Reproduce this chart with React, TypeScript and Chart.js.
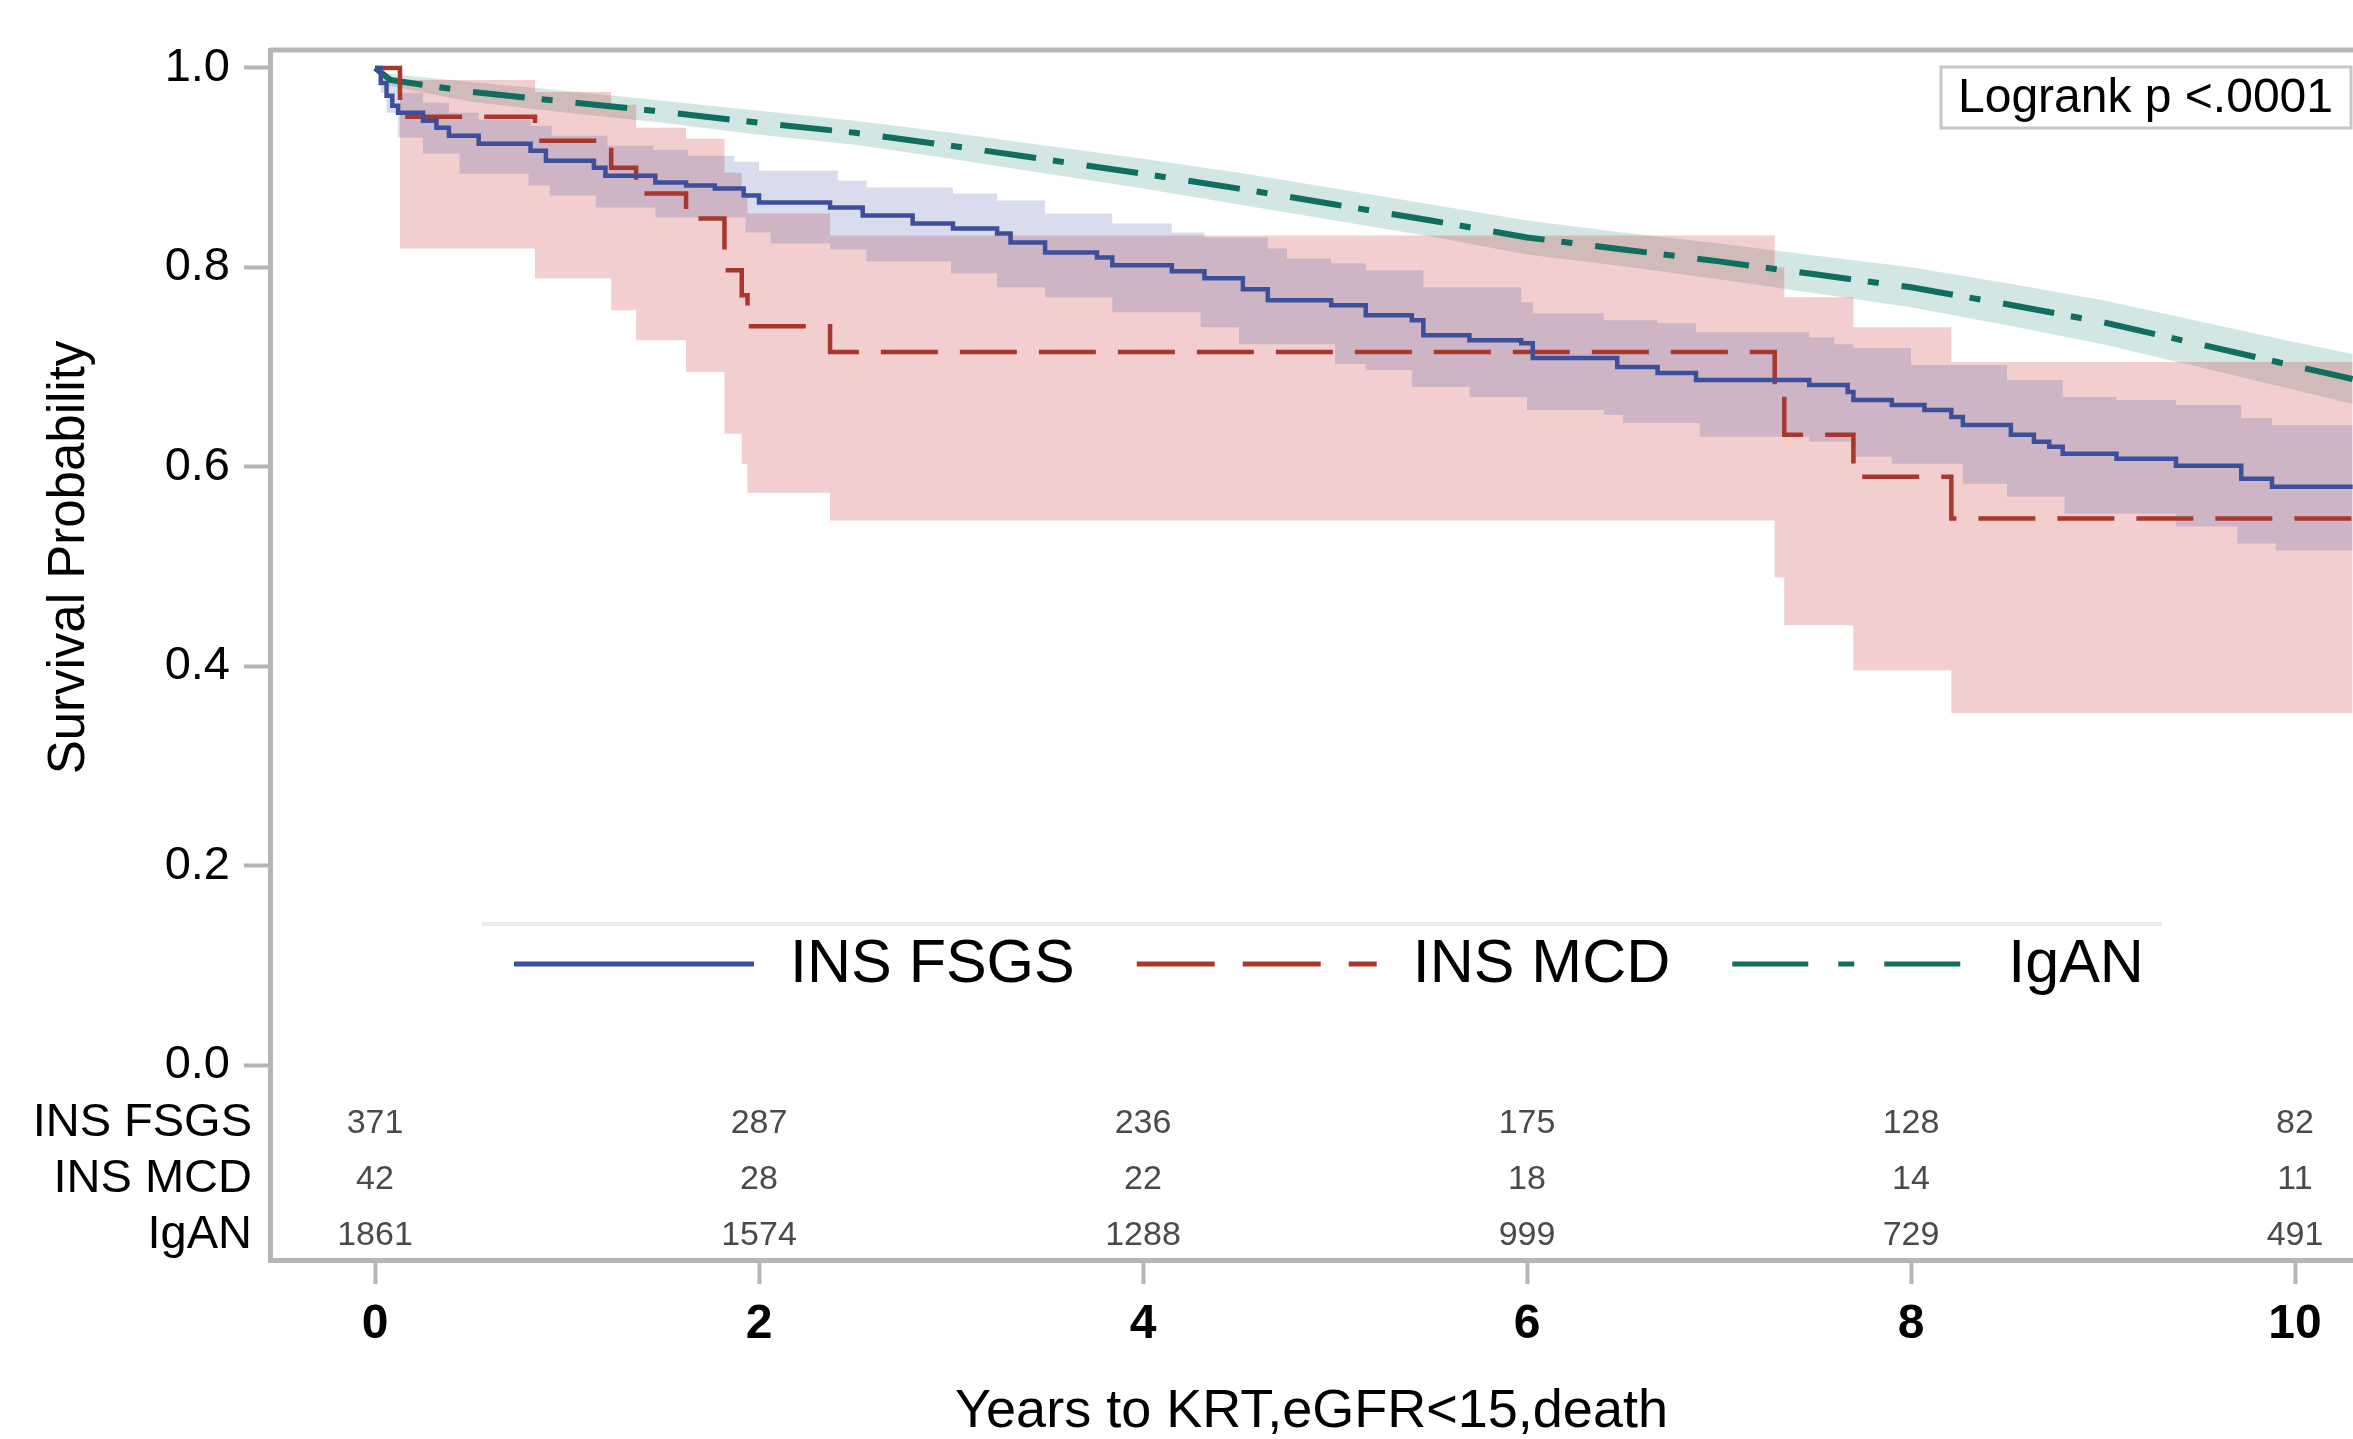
import React, { useEffect, useRef } from 'react';
import { Chart, registerables } from 'chart.js';

Chart.register(...registerables);

const W = 2353;
const H = 1439;
const FONT = '"Liberation Sans", Arial, Helvetica, sans-serif';

// ---- Survival data (Kaplan-Meier) ----
const groups = ['INS FSGS', 'INS MCD', 'IgAN'];

const fsgsT = [0, 0.03, 0.06, 0.09, 0.12, 0.25, 0.32, 0.385, 0.54, 0.81, 0.89, 1.14, 1.2, 1.46, 1.62, 1.77, 1.92, 2.0, 2.37, 2.54, 2.8, 3.01, 3.24, 3.31, 3.49, 3.76, 3.84, 4.15, 4.32, 4.52, 4.65, 4.98, 5.16, 5.4, 5.46, 5.7, 5.97, 6.03, 6.47, 6.68, 6.88, 7.47, 7.67, 7.7, 7.9, 8.07, 8.21, 8.27, 8.52, 8.64, 8.72, 8.79, 9.07, 9.38, 9.72, 9.88, 10.3];
const fsgsS = [1.0, 0.985, 0.972, 0.962, 0.955, 0.947, 0.94, 0.932, 0.924, 0.917, 0.907, 0.9, 0.892, 0.885, 0.882, 0.879, 0.872, 0.865, 0.86, 0.852, 0.844, 0.839, 0.834, 0.825, 0.815, 0.81, 0.802, 0.796, 0.789, 0.778, 0.767, 0.762, 0.752, 0.747, 0.732, 0.727, 0.724, 0.709, 0.7, 0.694, 0.687, 0.682, 0.675, 0.667, 0.662, 0.657, 0.65, 0.642, 0.632, 0.625, 0.62, 0.613, 0.608, 0.601, 0.588, 0.58, 0.58];

const fsgsUpperT = [0, 0.03, 0.06, 0.12, 0.25, 0.385, 0.54, 0.81, 0.92, 1.21, 1.45, 1.63, 1.87, 2.0, 2.41, 2.56, 3.01, 3.24, 3.49, 3.84, 4.15, 4.32, 4.65, 4.75, 4.98, 5.16, 5.46, 5.97, 6.03, 6.4, 6.68, 6.88, 7.47, 7.6, 7.7, 8.0, 8.5, 8.79, 9.07, 9.38, 9.72, 9.88, 10.3];
const fsgsUpper = [1.0, 0.995, 0.988, 0.975, 0.965, 0.955, 0.948, 0.942, 0.932, 0.922, 0.918, 0.912, 0.906, 0.897, 0.887, 0.88, 0.874, 0.867, 0.854, 0.844, 0.835, 0.83, 0.819, 0.809, 0.804, 0.797, 0.78, 0.765, 0.754, 0.747, 0.744, 0.735, 0.73, 0.723, 0.719, 0.702, 0.687, 0.67, 0.667, 0.662, 0.649, 0.642, 0.637];

const fsgsLowerT = [0, 0.03, 0.06, 0.12, 0.25, 0.44, 0.8, 0.91, 1.15, 1.46, 1.93, 2.06, 2.37, 2.56, 3.0, 3.24, 3.49, 3.84, 4.3, 4.5, 5.0, 5.16, 5.4, 5.7, 6.0, 6.4, 6.5, 6.9, 7.47, 7.7, 7.9, 8.27, 8.5, 8.8, 9.38, 9.7, 9.9, 10.3];
const fsgsLower = [1.0, 0.975, 0.955, 0.93, 0.914, 0.894, 0.882, 0.872, 0.86, 0.85, 0.835, 0.824, 0.818, 0.806, 0.794, 0.78, 0.77, 0.755, 0.74, 0.723, 0.703, 0.697, 0.68, 0.67, 0.657, 0.652, 0.644, 0.63, 0.625, 0.61, 0.603, 0.583, 0.57, 0.553, 0.54, 0.523, 0.516, 0.513];

const mcdT = [0, 0.13, 0.833, 1.23, 1.36, 1.62, 1.82, 1.91, 1.94, 2.37, 7.29, 7.34, 7.7, 8.21, 10.3];
const mcdS = [1.0, 0.951, 0.927, 0.9, 0.874, 0.849, 0.797, 0.772, 0.741, 0.715, 0.677, 0.632, 0.59, 0.548, 0.548];
const mcdUpper = [1.0, 0.988, 0.976, 0.963, 0.94, 0.929, 0.895, 0.87, 0.854, 0.832, 0.8, 0.77, 0.74, 0.705, 0.705];
const mcdLower = [1.0, 0.819, 0.789, 0.757, 0.727, 0.695, 0.633, 0.603, 0.574, 0.546, 0.489, 0.441, 0.396, 0.353, 0.353];

const igaT = [0, 0.08, 0.5, 1, 1.5, 2, 2.5, 3, 3.5, 4, 4.5, 5, 5.5, 6, 6.5, 7, 7.5, 8, 8.5, 9, 9.5, 10, 10.3];
const igaS = [1.0, 0.988, 0.976, 0.966, 0.956, 0.945, 0.935, 0.922, 0.908, 0.894, 0.879, 0.863, 0.847, 0.83, 0.818, 0.806, 0.793, 0.78, 0.763, 0.745, 0.723, 0.701, 0.688];
const igaUpper = [1.0, 0.994, 0.986, 0.977, 0.967, 0.957, 0.947, 0.935, 0.922, 0.909, 0.895, 0.879, 0.863, 0.847, 0.835, 0.824, 0.812, 0.8, 0.784, 0.767, 0.746, 0.725, 0.713];
const igaLower = [1.0, 0.982, 0.966, 0.955, 0.945, 0.933, 0.923, 0.909, 0.894, 0.879, 0.863, 0.847, 0.831, 0.813, 0.801, 0.788, 0.774, 0.76, 0.742, 0.723, 0.7, 0.677, 0.663];

// ---- Number at risk ----
const riskTimes = [0, 2, 4, 6, 8, 10];
const riskFSGS = [371, 287, 236, 175, 128, 82];
const riskMCD = [42, 28, 22, 18, 14, 11];
const riskIgAN = [1861, 1574, 1288, 999, 729, 491];

// ---- Ticks & texts ----
const xTicks = [0, 2, 4, 6, 8, 10];
const yTicks = [0, 0.2, 0.4, 0.6, 0.8, 1.0];
const xTitle = 'Years to KRT,eGFR<15,death';
const yTitle = 'Survival Probability';
const pValueText = 'Logrank p <.0001';

const BLUE = '#3d4f9b';
const RED = '#a8382e';
const TEAL = '#0f6e60';
const AXIS = '#b5b5b5';

const pts = (t: number[], v: number[]) => t.map((x, i) => ({ x, y: v[i] }));

const bandStyle = (color: string, fill: any, stepped: boolean) => ({
  borderColor: 'transparent',
  borderWidth: 0,
  backgroundColor: color,
  pointRadius: 0,
  fill,
  stepped: stepped ? 'before' : false,
  tension: 0,
});

const legendDash: Record<number, number[]> = { 0: [], 1: [78, 28], 2: [76, 30, 16, 30] };

const decorPlugin = {
  id: 'kmDecor',
  afterDraw(chart: any) {
    const { ctx, chartArea: a, scales } = chart;
    const xs = scales.x;
    const ys = scales.y;
    const yr = scales.yRisk;
    ctx.save();

    // top frame line
    ctx.strokeStyle = AXIS;
    ctx.lineWidth = 5;
    ctx.beginPath();
    ctx.moveTo(a.left, a.top);
    ctx.lineTo(a.right + 10, a.top);
    ctx.stroke();

    // number at risk
    ctx.font = `34px ${FONT}`;
    ctx.fillStyle = '#4a4a4a';
    ctx.textAlign = 'center';
    ctx.textBaseline = 'middle';
    [riskFSGS, riskMCD, riskIgAN].forEach((row, r) => {
      row.forEach((n, i) => {
        ctx.fillText(String(n), xs.getPixelForValue(riskTimes[i]), yr.getPixelForValue(r + 1));
      });
    });

    // Logrank box
    const bx = 1941, by = 67, bw = 410, bh = 61;
    ctx.fillStyle = '#ffffff';
    ctx.fillRect(bx, by, bw, bh);
    ctx.strokeStyle = '#c6c6c6';
    ctx.lineWidth = 3;
    ctx.strokeRect(bx, by, bw, bh);
    ctx.fillStyle = '#000';
    ctx.font = `48px ${FONT}`;
    ctx.textAlign = 'left';
    ctx.textBaseline = 'middle';
    ctx.fillText(pValueText, bx + 17, by + bh / 2 + 1);

    // legend
    const ly = ys.getPixelForValue(0.1013);
    ctx.strokeStyle = '#ececec';
    ctx.lineWidth = 4;
    ctx.setLineDash([]);
    ctx.beginPath();
    ctx.moveTo(482, ly - 40);
    ctx.lineTo(2162, ly - 40);
    ctx.stroke();

    ctx.font = `61px ${FONT}`;
    let lx = 514;
    chart.data.datasets.slice(0, 3).forEach((ds: any, i: number) => {
      ctx.strokeStyle = ds.borderColor;
      ctx.lineWidth = 5;
      ctx.lineCap = 'butt';
      ctx.setLineDash(legendDash[i]);
      ctx.beginPath();
      ctx.moveTo(lx, ly);
      ctx.lineTo(lx + 240, ly);
      ctx.stroke();
      ctx.setLineDash([]);
      ctx.fillStyle = '#000';
      ctx.textAlign = 'left';
      ctx.textBaseline = 'middle';
      const tx = lx + 240 + 36;
      ctx.fillText(ds.label, tx, ly + 1);
      lx = tx + ctx.measureText(ds.label).width + 62;
    });

    ctx.restore();
  },
};

export default function App() {
  const canvasRef = useRef<HTMLCanvasElement | null>(null);

  useEffect(() => {
    document.body.style.margin = '0';
    document.body.style.overflow = 'hidden';
    const canvas = canvasRef.current;
    if (!canvas) return;

    const chart = new Chart(canvas, {
      type: 'line',
      data: {
        datasets: [
          {
            label: groups[0],
            data: pts(fsgsT, fsgsS),
            borderColor: BLUE,
            borderWidth: 4.5,
            stepped: 'before',
            pointRadius: 0,
            fill: false,
          },
          {
            label: groups[1],
            data: pts(mcdT, mcdS),
            borderColor: RED,
            borderWidth: 4.5,
            borderDash: [57, 22],
            stepped: 'before',
            pointRadius: 0,
            fill: false,
          },
          {
            label: groups[2],
            data: pts(igaT, igaS),
            borderColor: TEAL,
            borderWidth: 6,
            borderDash: [52, 17, 11, 23],
            tension: 0,
            pointRadius: 0,
            fill: false,
          },
          { label: 'FSGS upper', data: pts(fsgsUpperT, fsgsUpper), ...bandStyle('rgba(60,80,160,0.2)', '+1', true) },
          { label: 'FSGS lower', data: pts(fsgsLowerT, fsgsLower), ...bandStyle('rgba(60,80,160,0.2)', false, true) },
          { label: 'MCD upper', data: pts(mcdT, mcdUpper), ...bandStyle('rgba(205,60,60,0.25)', '+1', true) },
          { label: 'MCD lower', data: pts(mcdT, mcdLower), ...bandStyle('rgba(205,60,60,0.25)', false, true) },
          { label: 'IgAN upper', data: pts(igaT, igaUpper), ...bandStyle('rgba(30,130,115,0.2)', '+1', false) },
          { label: 'IgAN lower', data: pts(igaT, igaLower), ...bandStyle('rgba(30,130,115,0.2)', false, false) },
        ] as any,
      },
      options: {
        responsive: false,
        maintainAspectRatio: false,
        animation: false,
        devicePixelRatio: 1,
        events: [],
        layout: { padding: { top: 50, left: 0, right: 0, bottom: 0 } },
        plugins: {
          legend: { display: false },
          tooltip: { enabled: false },
          title: { display: false },
        },
        scales: {
          x: {
            type: 'linear',
            min: -0.547,
            max: 10.302,
            afterBuildTicks: (s: any) => {
              s.ticks = xTicks.map((v) => ({ value: v }));
            },
            afterFit: (s: any) => {
              s.height = 179;
            },
            grid: {
              drawOnChartArea: false,
              drawTicks: true,
              tickLength: 24,
              tickWidth: 4,
              tickColor: AXIS,
              color: AXIS,
            },
            border: { display: true, color: AXIS, width: 5 },
            ticks: {
              font: { family: FONT, size: 48, weight: 'bold' },
              color: '#000',
              padding: 12,
              maxRotation: 0,
              autoSkip: false,
              callback: (v: any) => String(v),
            },
            title: {
              display: true,
              text: xTitle,
              color: '#000',
              font: { family: FONT, size: 54, lineHeight: 1 },
              padding: { top: 0, bottom: 0 },
            },
          },
          y: {
            type: 'linear',
            position: 'left',
            stack: 'left',
            stackWeight: 1015,
            weight: 2,
            min: 0,
            max: 1.018,
            afterBuildTicks: (s: any) => {
              s.ticks = yTicks.map((v) => ({ value: v }));
            },
            afterFit: (s: any) => {
              s.width = 270;
            },
            grid: {
              drawOnChartArea: false,
              drawTicks: true,
              tickLength: 26,
              tickWidth: 4,
              tickColor: AXIS,
              color: AXIS,
            },
            border: { display: true, color: AXIS, width: 5 },
            ticks: {
              font: { family: FONT, size: 47 },
              color: '#000',
              padding: 14,
              autoSkip: false,
              callback: (v: any) => Number(v).toFixed(1),
            },
            title: {
              display: true,
              text: yTitle,
              color: '#000',
              font: { family: FONT, size: 51, lineHeight: 1 },
              padding: { top: 44, bottom: 0 },
            },
          },
          yRisk: {
            type: 'linear',
            position: 'left',
            stack: 'left',
            stackWeight: 195,
            weight: 1,
            min: -0.04,
            max: 3.44,
            reverse: true,
            afterBuildTicks: (s: any) => {
              s.ticks = groups.map((_, i) => ({ value: i + 1 }));
            },
            afterFit: (s: any) => {
              s.width = 270;
            },
            grid: { display: false, drawOnChartArea: false, drawTicks: false },
            border: { display: true, color: AXIS, width: 5 },
            ticks: {
              font: { family: FONT, size: 47 },
              color: '#000',
              padding: 18,
              autoSkip: false,
              callback: (v: any) => groups[Math.round(Number(v)) - 1] ?? '',
            },
          },
        } as any,
      },
      plugins: [decorPlugin],
    });

    return () => chart.destroy();
  }, []);

  return (
    <div style={{ width: W, height: H, background: '#fff' }}>
      <canvas ref={canvasRef} width={W} height={H} style={{ display: 'block' }} />
    </div>
  );
}
